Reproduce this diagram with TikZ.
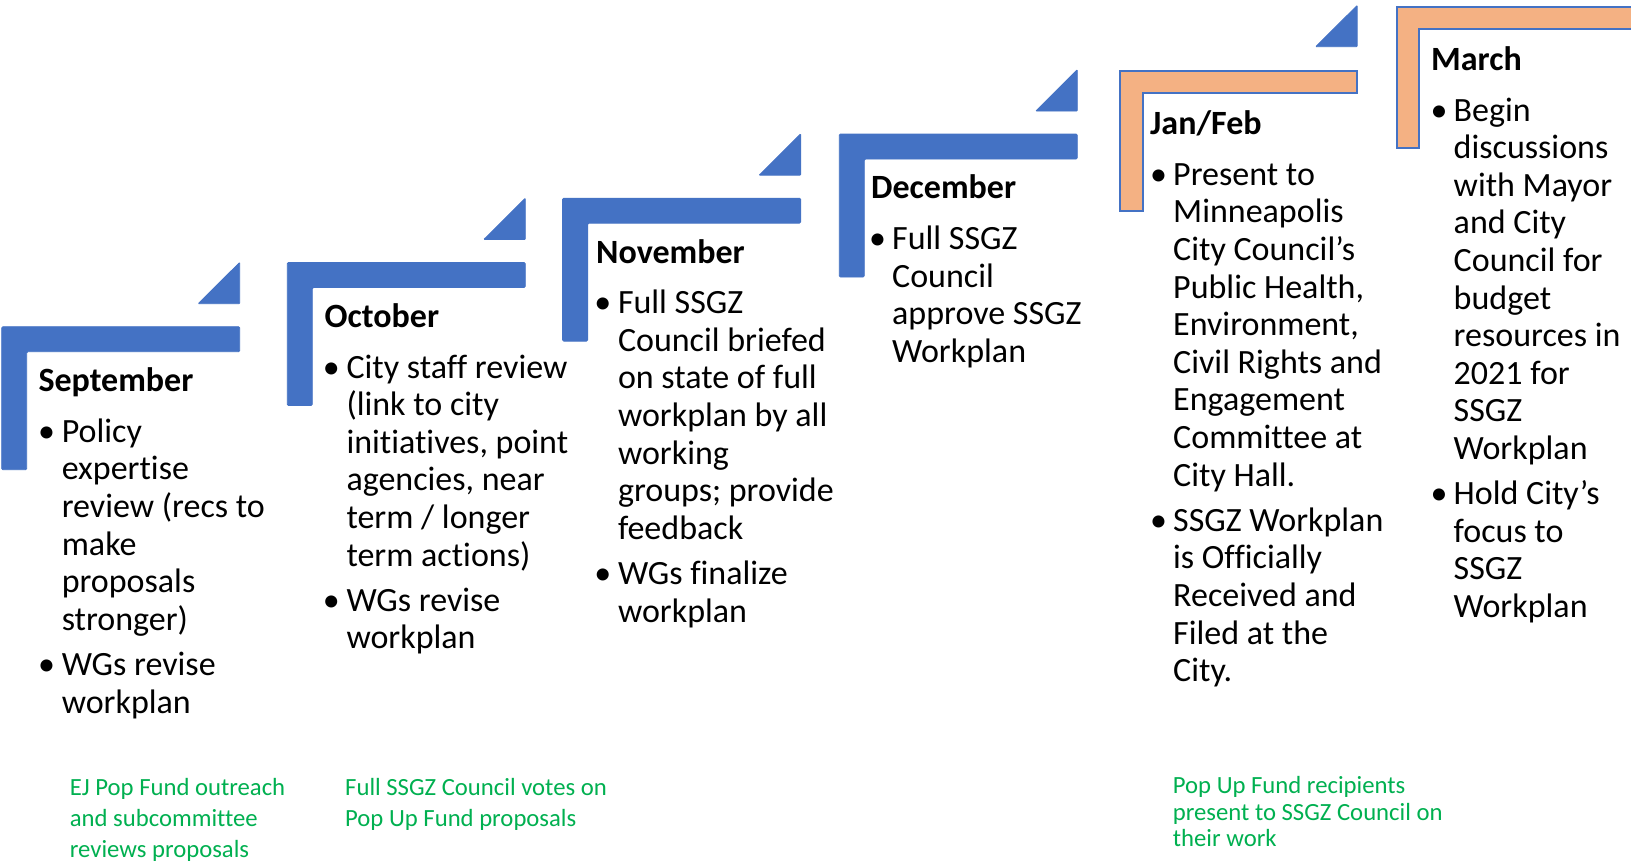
\documentclass[tikz,border=0pt]{standalone}
\usepackage{fontspec}
\setmainfont{Carlito}[Ligatures={NoCommon}]
\definecolor{stepblue}{HTML}{4472C4}
\definecolor{steporange}{HTML}{F4B183}
\definecolor{notegreen}{HTML}{00B050}
\newcommand\mlines[2][37.6pt]{\vtop{\baselineskip=#1\lineskiplimit=-1000pt\lineskip=0pt\halign{##\hfil\cr#2\crcr}}}
\tikzset{
  lblue/.style={fill=stepblue, draw=stepblue, line width=0.8pt, rounded corners=1.2pt},
  lorange/.style={fill=steporange, draw=stepblue, line width=2pt},
  tri/.style={fill=stepblue, draw=stepblue, line width=0.8pt, rounded corners=0.8pt},
  ttl/.style={anchor=base west, inner sep=0pt, font=\fontsize{34}{37.6}\selectfont\bfseries},
  body/.style={anchor=base west, inner sep=0pt, font=\fontsize{34}{37.6}\selectfont},
  bul/.style={anchor=base, inner sep=0pt, font=\fontsize{34}{37.6}\selectfont},
  note/.style={anchor=base west, inner sep=0pt, text=notegreen, font=\fontsize{24.7}{31}\selectfont},
}
\begin{document}
\begin{tikzpicture}[x=1pt, y=-1pt]
\useasboundingbox (0,0) rectangle (1631,862);
\fill[white] (0,0) rectangle (1631,862);
% blue L shapes
\foreach \L/\T in {1.7/326.7, 287.3/262.5, 562.6/198.2, 839.3/134.0}{
  \draw[lblue] (\L,\T) -- (\L+238,\T) -- (\L+238,\T+25) -- (\L+25,\T+25) -- (\L+25,\T+143) -- (\L,\T+143) -- cycle;
}
% orange L shapes
\draw[lorange] (1120.2,70.7) -- (1357,70.7) -- (1357,93) -- (1143.2,93) -- (1143.2,211) -- (1120.2,211) -- cycle;
\draw[lorange] (1396.8,6.5) -- (1640,6.5) -- (1640,28.8) -- (1419.3,28.8) -- (1419.3,148) -- (1396.8,148) -- cycle;
% triangles
\foreach \L/\T in {1.7/326.7, 287.3/262.5, 562.6/198.2, 839.3/134.0, 1119.2/69.7}{
  \draw[tri] (\L+238,\T-23) -- (\L+196.5,\T-23) -- (\L+238,\T-64.3) -- cycle;
}
% September
\node[ttl] (t1) at (38.3,391.5) {September};
\node[bul] (u1a) at (46.7,442.2) {•};
\node[body] (b1a) at (61.6,442.2) {\mlines{Policy\cr expertise\cr review (recs to\cr make\cr proposals\cr stronger)}};
\node[bul] (u1b) at (46.7,675.5) {•};
\node[body] (b1b) at (61.6,675.5) {\mlines{WGs revise\cr workplan}};
% October
\node[ttl] (t2) at (324.5,327.3) {October};
\node[bul] (u2a) at (331.4,378.0) {•};
\node[body] (b2a) at (346.3,378.0) {\mlines{City staff review\cr (link to city\cr initiatives, point\cr agencies, near\cr term / longer\cr term actions)}};
\node[bul] (u2b) at (331.4,611.3) {•};
\node[body] (b2b) at (346.3,611.3) {\mlines{WGs revise\cr workplan}};
% November
\node[ttl] (t3) at (596,263.0) {November};
\node[bul] (u3a) at (602.9,313.7) {•};
\node[body] (b3a) at (617.8,313.7) {\mlines{Full SSGZ\cr Council briefed\cr on state of full\cr workplan by all\cr working\cr groups; provide\cr feedback}};
\node[bul] (u3b) at (602.9,584.6) {•};
\node[body] (b3b) at (617.8,584.6) {\mlines{WGs finalize\cr workplan}};
% December
\node[ttl] (t4) at (871,198.8) {December};
\node[bul] (u4a) at (877.5,249.5) {•};
\node[body] (b4a) at (892,249.5) {\mlines{Full SSGZ\cr Council\cr approve SSGZ\cr Workplan}};
% Jan/Feb
\node[ttl] (t5) at (1150,134.5) {Jan/Feb};
\node[bul] (u5a) at (1158.5,185.2) {•};
\node[body] (b5a) at (1173,185.2) {\mlines{Present to\cr Minneapolis\cr City Council’s\cr Public Health,\cr Environment,\cr Civil Rights and\cr Engagement\cr Committee at\cr City Hall.}};
\node[bul] (u5b) at (1158.5,531.3) {•};
\node[body] (b5b) at (1173,531.3) {\mlines{SSGZ Workplan\cr is Officially\cr Received and\cr Filed at the\cr City.}};
% March
\node[ttl] (t6) at (1431,70.3) {March};
\node[bul] (u6a) at (1439,121.0) {•};
\node[body] (b6a) at (1453.5,121.0) {\mlines{Begin\cr discussions\cr with Mayor\cr and City\cr Council for\cr budget\cr resources in\cr 2021 for\cr SSGZ\cr Workplan}};
\node[bul] (u6b) at (1439,504.7) {•};
\node[body] (b6b) at (1453.5,504.7) {\mlines{Hold City’s\cr focus to\cr SSGZ\cr Workplan}};
% green notes
\node[note] (n1) at (69.7,795) {\mlines[31pt]{EJ Pop Fund outreach\cr and subcommittee\cr reviews proposals}};
\node[note] (n2) at (345,795) {\mlines[31pt]{Full SSGZ Council votes on\cr Pop Up Fund proposals}};
\node[note] (n3) at (1172.7,793.3) {\mlines[26.7pt]{Pop Up Fund recipients\cr present to SSGZ Council on\cr their work}};
\end{tikzpicture}
\end{document}
